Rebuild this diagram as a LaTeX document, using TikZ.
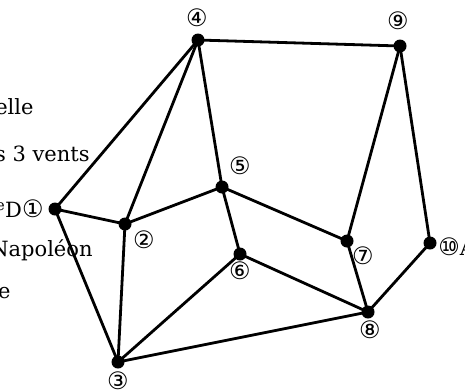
\documentclass[tikz,border=0pt]{standalone}
\usepackage{fontspec}
\setmainfont{DejaVu Serif}
\newfontfamily\numfont{DejaVu Sans}
\newcommand\cn[1]{{\numfont\fontsize{24}{26}\selectfont #1}}
\tikzset{num/.style={inner sep=0pt}}
\begin{document}
\begin{tikzpicture}[x=1pt,y=-1pt,line width=2.8pt,font=\fontsize{21}{24}\selectfont]
\useasboundingbox (0,0) rectangle (465,391);
% вершины
\coordinate (n1) at (55,209);
\coordinate (n2) at (125,224);
\coordinate (n3) at (118,362);
\coordinate (n4) at (198,40);
\coordinate (n5) at (222,187);
\coordinate (n6) at (240,254);
\coordinate (n7) at (347,241);
\coordinate (n8) at (368,312);
\coordinate (n9) at (400,46);
\coordinate (n10) at (430,243);

% рёбра
\draw (n1) -- (n4) (n1) -- (n2) (n1) -- (n3);
\draw (n2) -- (n4) (n2) -- (n5) (n2) -- (n3);
\draw (n4) -- (n5) (n4) -- (n9);
\draw (n5) -- (n6) (n5) -- (n7);
\draw (n3) -- (n6) (n3) -- (n8) (n6) -- (n8);
\draw (n9) -- (n7) (n7) -- (n8);
\draw (n9) -- (n10) (n10) -- (n8);

% точки
\foreach \p in {n1,n2,n3,n4,n5,n6,n7,n8,n9,n10}
  \fill (\p) circle [radius=6.5];

% номера
\node (l2) [num] at (144,240) {\cn{②}};
\node (l3) [num] at (118,381) {\cn{③}};
\node (l4) [num] at (197,18) {\cn{④}};
\node (l5) [num] at (240,166) {\cn{⑤}};
\node (l6) [num] at (240,271) {\cn{⑥}};
\node (l7) [num] at (363,256) {\cn{⑦}};
\node (l8) [num] at (370,330) {\cn{⑧}};
\node (l9) [num] at (398,21) {\cn{⑨}};
\node (t10) [anchor=west, inner sep=0pt] at (437,247) {\cn{⑩}A};

% текст слева
\node (t1) [anchor=east, inner sep=0pt] at (45,209) {\textsuperscript{e}D\cn{①}};
\node (ta) [anchor=base east, inner sep=0pt] at (35,114) {elle};
\node (tb) [anchor=base east, inner sep=0pt] at (91,161) {s 3 vents};
\node (tc) [anchor=base east, inner sep=0pt] at (94,256) {Napoléon};
\node (td) [anchor=base east, inner sep=0pt] at (12,298) {e};
\end{tikzpicture}
\end{document}
